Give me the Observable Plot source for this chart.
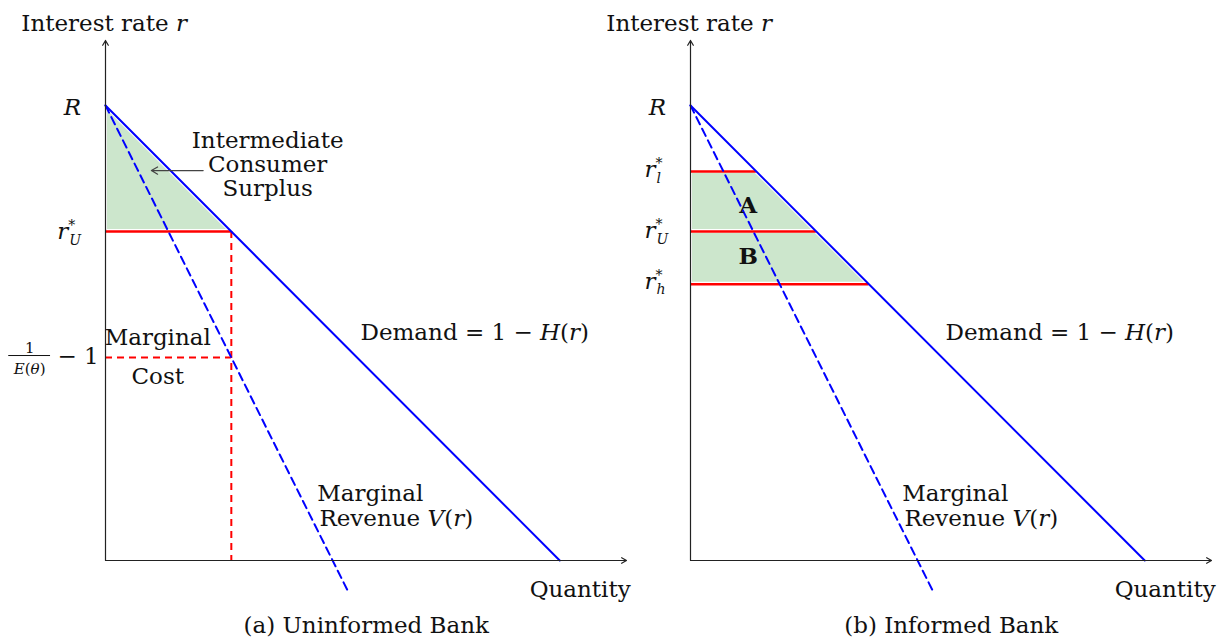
<!DOCTYPE html>
<html><head><meta charset="utf-8">
<script src="https://cdn.jsdelivr.net/npm/d3@7"></script>
<script src="https://cdn.jsdelivr.net/npm/@observablehq/plot@0.6"></script>
<style>
html,body{margin:0;padding:0;background:#fff;}
#chart{width:1220px;height:638px;}
</style></head><body><div id="chart"></div>
<script>
// ---------- values ----------
const panels = ["a", "b"];
const captions = ["(a) Uninformed Bank", "(b) Informed Bank"];
const R = 1.0;            // demand intercept on the rate axis
const demandQ = 1.0;      // demand intercept on the quantity axis
const rU = 0.723;         // r*_U
const rL = 0.855;         // r*_l
const rH = 0.607;         // r*_h
const mcRate = 0.446;     // 1/E(θ) − 1
const mrEndQ = 0.534;     // end of the dashed MR segment (quantity)
const mrEndR = -0.068;    // end of the dashed MR segment (rate)
const axisTop = 1.143, axisRight = 1.147;

const demandAt = r => demandQ * (1 - r / R);

// ---------- derived tables ----------
const demand = panels.flatMap(p => [{panel: p, q: 0, r: R}, {panel: p, q: demandQ, r: 0}]);
const mr = panels.flatMap(p => [{panel: p, q: 0, r: R}, {panel: p, q: mrEndQ, r: mrEndR}]);
const rateLines = [
  {panel: "a", r: rU},
  {panel: "b", r: rL}, {panel: "b", r: rU}, {panel: "b", r: rH}
];
const surplus = [
  {panel: "a", id: "cs", r: rU}, {panel: "a", id: "cs", r: R},
  {panel: "b", id: "A", r: rU}, {panel: "b", id: "A", r: rL},
  {panel: "b", id: "B", r: rH}, {panel: "b", id: "B", r: rU}
].map(d => ({...d, q: demandAt(d.r)}));
const mcLine = [{panel: "a", r: mcRate, q: demandAt(rU)}];
const axes = panels.flatMap(p => [
  {panel: p, x1: 0, y1: 0, x2: 0, y2: axisTop},
  {panel: p, x1: 0, y1: 0, x2: axisRight, y2: 0}
]);

// ---------- label layout (positions in data units) ----------
const shared = [
  {text: "Interest rate r", q: -0.003, r: 1.181, anchor: "middle", size: 23},
  {text: "R", q: -0.092, r: 0.995, anchor: "start", size: 23},
  {text: "Demand = 1 − H(r)", q: 0.813, r: 0.500, anchor: "middle", size: 23},
  {text: "Marginal", q: 0.466, r: 0.146, anchor: "start", size: 23},
  {text: "Revenue V(r)", q: 0.471, r: 0.091, anchor: "start", size: 23},
  {text: "Quantity", q: 1.045, r: -0.065, anchor: "middle", size: 23},
  {text: "caption", q: 0.574, r: -0.144, anchor: "middle", size: 23}
];
const labels = [
  ...panels.flatMap((p, i) => shared.map(d => ({...d, panel: p, text: d.text === "caption" ? captions[i] : d.text}))),
  {panel: "a", text: "r*U", q: -0.106, r: 0.722, anchor: "start", size: 23},
  {panel: "a", text: "1", q: -0.167, r: 0.466, anchor: "middle", size: 15},
  {panel: "a", text: "E(θ)", q: -0.167, r: 0.4215, anchor: "middle", size: 15},
  {panel: "a", text: "− 1", q: -0.015, r: 0.449, anchor: "end", size: 23},
  {panel: "a", text: "Marginal", q: 0.115, r: 0.489, anchor: "middle", size: 23},
  {panel: "a", text: "Cost", q: 0.115, r: 0.405, anchor: "middle", size: 23},
  {panel: "a", text: "Intermediate", q: 0.357, r: 0.922, anchor: "middle", size: 23},
  {panel: "a", text: "Consumer", q: 0.357, r: 0.870, anchor: "middle", size: 23},
  {panel: "a", text: "Surplus", q: 0.357, r: 0.818, anchor: "middle", size: 23},
  {panel: "b", text: "r*l", q: -0.101, r: 0.858, anchor: "start", size: 23},
  {panel: "b", text: "r*U", q: -0.101, r: 0.726, anchor: "start", size: 23},
  {panel: "b", text: "r*h", q: -0.101, r: 0.614, anchor: "start", size: 23}
];
const boldLabels = [
  {panel: "b", text: "A", q: 0.127, r: 0.781},
  {panel: "b", text: "B", q: 0.127, r: 0.667}
];
const fractionBar = [{panel: "a", r: 0.4505, q1: -0.213, q2: -0.121}];
const pointer = [{panel: "a", x1: 0.215, y1: 0.857, x2: 0.101, y2: 0.857}];

const BLUE = "#0000ff", RED = "#ff0000", GREEN = "#cce6cc", INK = "#111";

const textMarks = ["start", "middle", "end"].map(a =>
  Plot.text(labels.filter(d => d.anchor === a), {
    fx: "panel", x: "q", y: "r", text: "text", textAnchor: a, fontSize: "size", fill: INK
  })
);

const chart = Plot.plot({
  width: 1220, height: 638,
  marginLeft: 104, marginRight: 8, marginTop: 14, marginBottom: 9.75,
  style: {fontFamily: "'DejaVu Serif', serif", fontSize: "23px", background: "white", overflow: "visible"},
  fx: {domain: panels, paddingInner: 0.1092, paddingOuter: 0, axis: null, label: null},
  x: {domain: [0, axisRight], axis: null},
  y: {domain: [-0.15, 1.2], axis: null},
  marks: [
    Plot.areaX(surplus, {fx: "panel", z: "id", y: "r", x1: () => 0, x2: "q", fill: GREEN, stroke: "white", strokeWidth: 4}),
    Plot.ruleY(mcLine, {fx: "panel", y: "r", x1: () => 0, x2: "q", stroke: RED, strokeWidth: 2, strokeDasharray: "7,5"}),
    Plot.ruleX(mcLine, {fx: "panel", x: "q", y1: () => rU, y2: () => 0, stroke: RED, strokeWidth: 2, strokeDasharray: "7,5"}),
    Plot.ruleY(rateLines, {fx: "panel", y: "r", x1: () => 0, x2: d => demandAt(d.r), stroke: RED, strokeWidth: 2.4}),
    Plot.line(demand, {fx: "panel", z: "panel", x: "q", y: "r", stroke: BLUE, strokeWidth: 2}),
    Plot.line(mr, {fx: "panel", z: "panel", x: "q", y: "r", stroke: BLUE, strokeWidth: 2, strokeDasharray: "8,5"}),
    Plot.arrow(axes, {fx: "panel", x1: "x1", y1: "y1", x2: "x2", y2: "y2", stroke: "#222", strokeWidth: 1.2, headLength: 7}),
    Plot.arrow(pointer, {fx: "panel", x1: "x1", y1: "y1", x2: "x2", y2: "y2", stroke: "#444", strokeWidth: 1.2, headLength: 9}),
    Plot.ruleY(fractionBar, {fx: "panel", y: "r", x1: "q1", x2: "q2", stroke: INK, strokeWidth: 1}),
    ...textMarks,
    Plot.text(boldLabels, {fx: "panel", x: "q", y: "r", text: "text", fontSize: 23, fontWeight: "bold", fill: INK})
  ]
});

// ---------- math typesetting for labels ----------
const I = s => `<tspan font-style="italic">${s}</tspan>`;
const starSub = s => `${I("r")}<tspan font-size="14" dy="-9">*</tspan><tspan font-size="14" font-style="italic" dx="-6" dy="15">${s}</tspan>`;
const rich = {
  "Interest rate r": `Interest rate ${I("r")}`,
  "R": I("R"),
  "r*U": starSub("U"),
  "r*l": starSub("l"),
  "r*h": starSub("h"),
  "E(θ)": `${I("E")}(${I("θ")})`,
  "Demand = 1 − H(r)": `Demand = 1 − ${I("H")}(${I("r")})`,
  "Revenue V(r)": `Revenue ${I("V")}(${I("r")})`
};
chart.querySelectorAll("text").forEach(t => {
  const k = t.textContent;
  if (rich[k]) t.innerHTML = rich[k];
});

document.getElementById("chart").append(chart);
</script>
</body></html>
